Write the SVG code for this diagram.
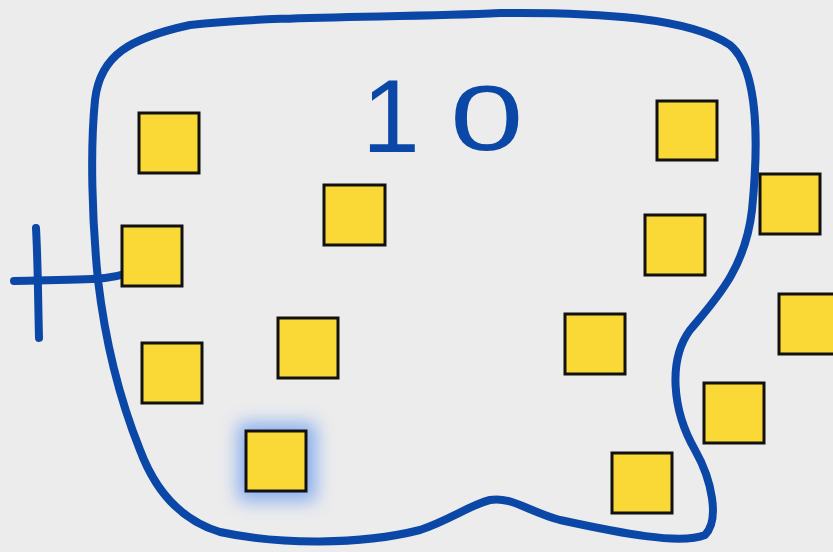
<svg xmlns="http://www.w3.org/2000/svg" width="833" height="552" viewBox="0 0 833 552">
<defs>
<style>
.sq{fill:#fad936;stroke:#111;stroke-width:3}
.ink{fill:none;stroke:#0b47a6;stroke-width:8;stroke-linecap:round;stroke-linejoin:round}
.num{font-family:"Liberation Sans",Arial,sans-serif;font-size:104px;fill:#0b47a6}
</style>
<filter id="glow" x="-50%" y="-50%" width="200%" height="200%">
<feGaussianBlur stdDeviation="9"/>
</filter>
</defs>
<rect width="833" height="552" fill="#ececec"/>
<g id="connectors">
<path id="boundary" class="ink" d="M95,100 C100,55 130,38 190,25 C280,15 400,18 500,13 C600,12 690,18 730,45 C760,70 758,150 752,210 C745,270 715,300 690,330 C668,360 672,410 695,450 C712,480 720,520 705,535 C680,545 620,533 560,520 C530,512 510,496 490,500 C470,505 450,520 420,530 C360,545 280,545 220,532 C180,520 155,490 140,450 C120,400 105,340 98,280 C92,220 90,150 95,100 Z"/>
<path id="plus-v" class="ink" d="M36,228 C38,265 38,300 39,338"/>
<path id="plus-h" class="ink" d="M14,281 C50,280 90,280 105,278 C115,277 122,275 128,273"/>
</g>
<g id="label-10">
<text class="num" x="362" y="152">1</text>
<text class="num" x="450" y="150" transform="translate(450 150) scale(1.27 0.9) translate(-450 -150)">0</text>
</g>
<g id="nodes">
<g id="n1"><rect class="sq" x="139" y="113" width="60" height="60"/></g>
<g id="n2"><rect class="sq" x="324" y="185" width="61" height="60"/></g>
<g id="n3"><rect class="sq" x="122" y="226" width="60" height="60"/></g>
<g id="n4"><rect class="sq" x="142" y="343" width="60" height="60"/></g>
<g id="n5"><rect class="sq" x="278" y="318" width="60" height="60"/></g>
<g id="n6"><rect x="238" y="423" width="78" height="78" fill="#6f9ef0" opacity="0.8" filter="url(#glow)"/><rect class="sq" x="246" y="431" width="60" height="60"/></g>
<g id="n7"><rect class="sq" x="657" y="101" width="60" height="59"/></g>
<g id="n8"><rect class="sq" x="760" y="174" width="60" height="60"/></g>
<g id="n9"><rect class="sq" x="645" y="215" width="60" height="60"/></g>
<g id="n10"><rect class="sq" x="779" y="294" width="60" height="60"/></g>
<g id="n11"><rect class="sq" x="565" y="314" width="60" height="60"/></g>
<g id="n12"><rect class="sq" x="704" y="383" width="60" height="60"/></g>
<g id="n13"><rect class="sq" x="612" y="453" width="60" height="60"/></g>
</g>
</svg>
